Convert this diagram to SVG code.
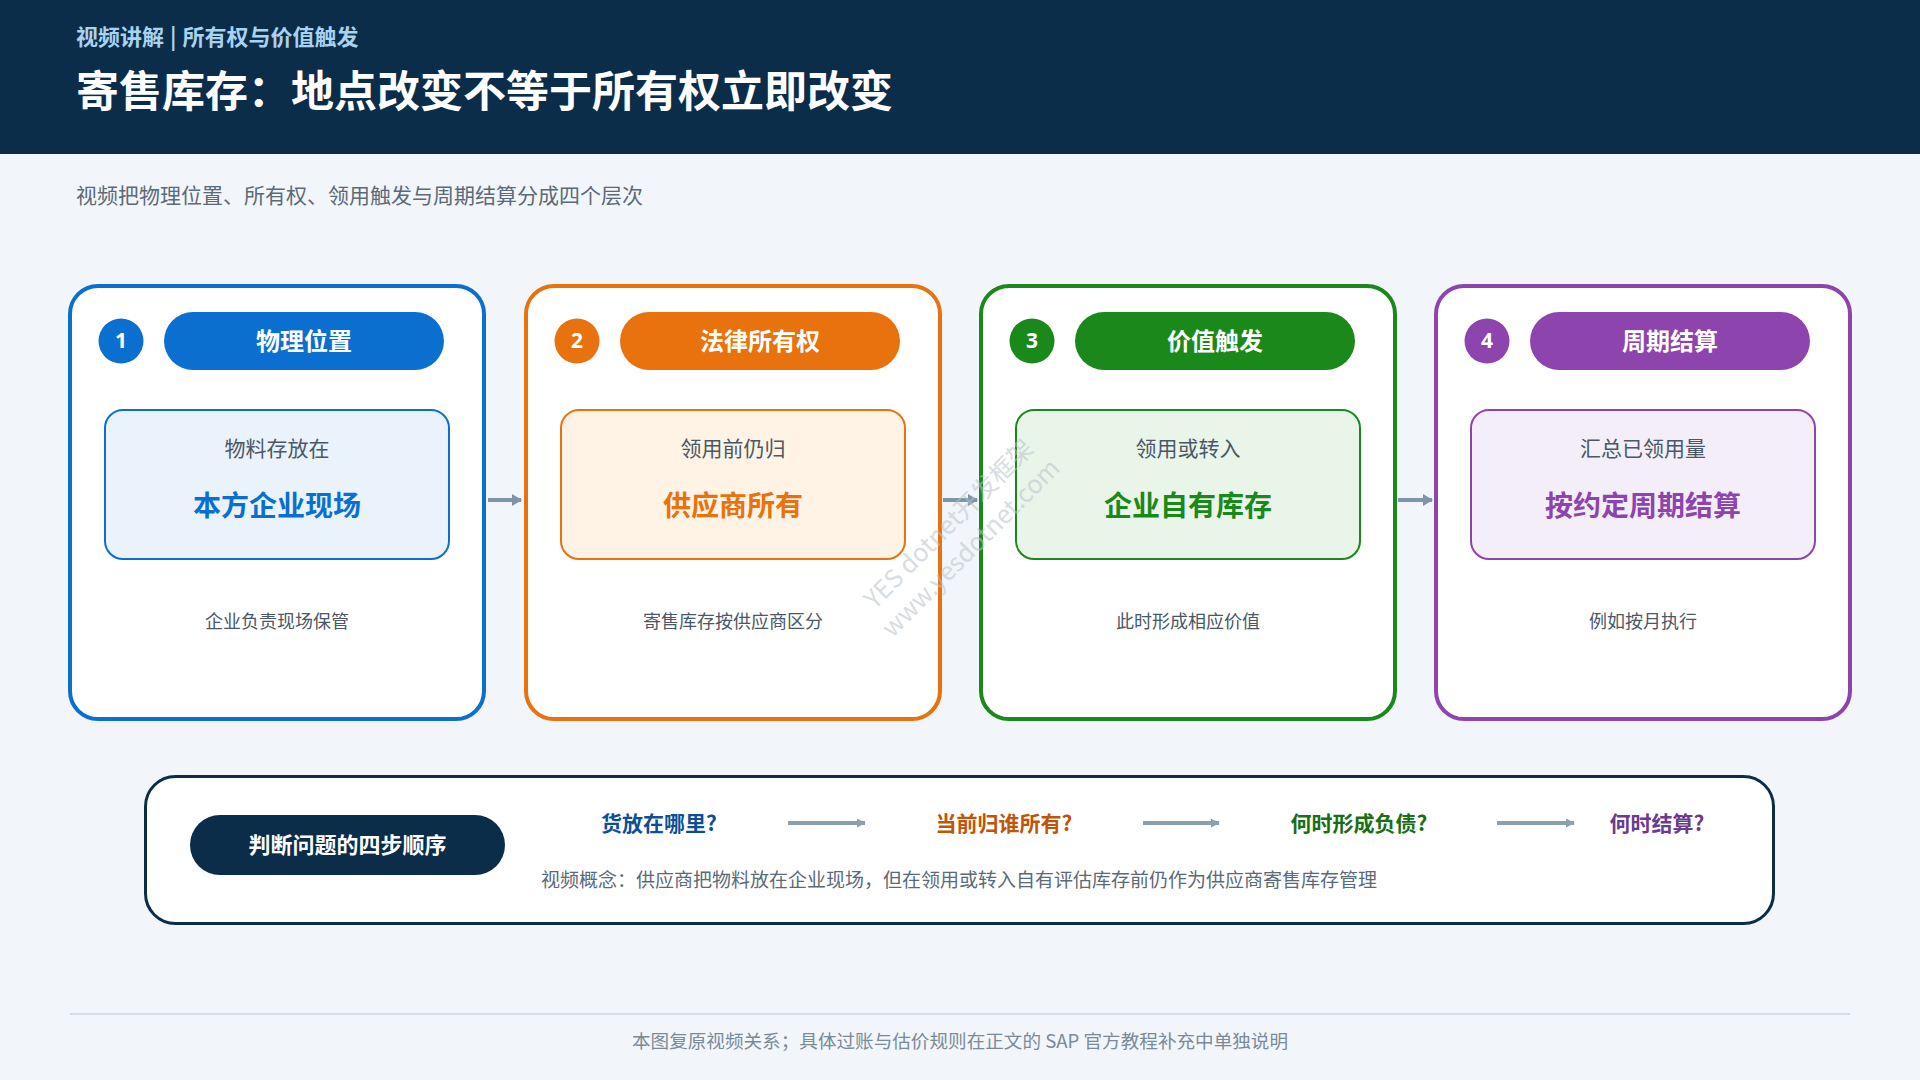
<svg xmlns="http://www.w3.org/2000/svg" width="1920" height="1080" viewBox="0 0 1920 1080">
<defs>
<style>
text{font-family:"Noto Sans CJK SC","Noto Sans",sans-serif}
.b{font-weight:700}
.mid{text-anchor:middle}
.card{fill:#ffffff;stroke-width:4}
.inner{stroke-width:2}
.pilltxt{fill:#ffffff;font-size:24px;font-weight:700;text-anchor:middle}
.num{fill:#ffffff;font-size:21px;font-weight:700;text-anchor:middle;font-family:"Noto Sans","Open Sans",sans-serif}
.small{fill:#4a5866;font-size:21px;text-anchor:middle}
.big{font-size:28px;font-weight:700;text-anchor:middle}
.note{fill:#4a5866;font-size:18px;text-anchor:middle}
.conn{stroke:#7d95a7;stroke-width:4;fill:none}
.step{font-size:21px;font-weight:700;text-anchor:middle}
</style>
<marker id="ah" viewBox="0 0 10 12" refX="9" refY="6" markerWidth="10" markerHeight="12" markerUnits="userSpaceOnUse" orient="auto">
<path d="M0,0 L10,6 L0,12 Z" fill="#7d95a7"/>
</marker>
<marker id="ah2" viewBox="0 0 10 10" refX="9" refY="5" markerWidth="9" markerHeight="9" markerUnits="userSpaceOnUse" orient="auto">
<path d="M0,0 L10,5 L0,10 Z" fill="#8aa0b1"/>
</marker>
</defs>

<rect x="0" y="0" width="1920" height="1080" fill="#f2f6fa"/>
<rect x="0" y="0" width="1920" height="154" fill="#0c2d4a"/>
<text x="76" y="45" font-size="22" class="b" fill="#a9d2f0">视频讲解<tspan dx="6">|</tspan><tspan dx="6">所有权与价值触发</tspan></text>
<text x="76" y="107" font-size="43" class="b" fill="#ffffff">寄售库存：地点改变不等于所有权立即改变</text>
<text x="76" y="203" font-size="21" fill="#5b6a78">视频把物理位置、所有权、领用触发与周期结算分成四个层次</text>

<g id="card1">
<rect class="card" x="70" y="286" width="414" height="433" rx="28" stroke="#0b6fd0"/>
<circle cx="121" cy="341" r="22.5" fill="#0b6fd0"/>
<text class="num" x="121" y="348">1</text>
<rect x="164" y="312" width="280" height="58" rx="29" fill="#0b6fd0"/>
<text class="pilltxt" x="304" y="350">物理位置</text>
<rect class="inner" x="105" y="410" width="344" height="149" rx="18" fill="#eaf2fc" stroke="#0b6fd0"/>
<text class="small" x="277" y="456">物料存放在</text>
<text class="big" x="277" y="516" fill="#0b6fd0">本方企业现场</text>
<text class="note" x="277" y="628">企业负责现场保管</text>
</g>

<g id="card2">
<rect class="card" x="526" y="286" width="414" height="433" rx="28" stroke="#e8730e"/>
<circle cx="577" cy="341" r="22.5" fill="#e8730e"/>
<text class="num" x="577" y="348">2</text>
<rect x="620" y="312" width="280" height="58" rx="29" fill="#e8730e"/>
<text class="pilltxt" x="760" y="350">法律所有权</text>
<rect class="inner" x="561" y="410" width="344" height="149" rx="18" fill="#fff3e6" stroke="#e8730e"/>
<text class="small" x="733" y="456">领用前仍归</text>
<text class="big" x="733" y="516" fill="#e8730e">供应商所有</text>
<text class="note" x="733" y="628">寄售库存按供应商区分</text>
</g>

<g id="card3">
<rect class="card" x="981" y="286" width="414" height="433" rx="28" stroke="#1b881b"/>
<circle cx="1032" cy="341" r="22.5" fill="#1b881b"/>
<text class="num" x="1032" y="348">3</text>
<rect x="1075" y="312" width="280" height="58" rx="29" fill="#1b881b"/>
<text class="pilltxt" x="1215" y="350">价值触发</text>
<rect class="inner" x="1016" y="410" width="344" height="149" rx="18" fill="#eaf5ea" stroke="#1b881b"/>
<text class="small" x="1188" y="456">领用或转入</text>
<text class="big" x="1188" y="516" fill="#1b881b">企业自有库存</text>
<text class="note" x="1188" y="628">此时形成相应价值</text>
</g>

<g id="card4">
<rect class="card" x="1436" y="286" width="414" height="433" rx="28" stroke="#8e44ad"/>
<circle cx="1487" cy="341" r="22.5" fill="#8e44ad"/>
<text class="num" x="1487" y="348">4</text>
<rect x="1530" y="312" width="280" height="58" rx="29" fill="#8e44ad"/>
<text class="pilltxt" x="1670" y="350">周期结算</text>
<rect class="inner" x="1471" y="410" width="344" height="149" rx="18" fill="#f3eef8" stroke="#8e44ad"/>
<text class="small" x="1643" y="456">汇总已领用量</text>
<text class="big" x="1643" y="516" fill="#8e44ad">按约定周期结算</text>
<text class="note" x="1643" y="628">例如按月执行</text>
</g>

<g id="summary">
<rect x="145.5" y="776.5" width="1628" height="147" rx="30" fill="#ffffff" stroke="#0c2d4a" stroke-width="3"/>
<rect x="190" y="815" width="315" height="60" rx="30" fill="#0c2d4a"/>
<text x="347.5" y="853" font-size="22" class="b mid" fill="#ffffff">判断问题的四步顺序</text>
<text class="step" x="659" y="831" fill="#0d4f94">货放在哪里?</text>
<text class="step" x="1004" y="831" fill="#c0550a">当前归谁所有?</text>
<text class="step" x="1359" y="831" fill="#1a6e14">何时形成负债?</text>
<text class="step" x="1657" y="831" fill="#6c3a8e">何时结算?</text>
<text x="541" y="887" font-size="19" fill="#5b6a78">视频概念：供应商把物料放在企业现场，但在领用或转入自有评估库存前仍作为供应商寄售库存管理</text>
</g>

<g id="connectors">
<line class="conn" x1="488" y1="500" x2="521" y2="500" marker-end="url(#ah)"/>
<line class="conn" x1="943" y1="500" x2="977" y2="500" marker-end="url(#ah)"/>
<line class="conn" x1="1398" y1="500" x2="1432" y2="500" marker-end="url(#ah)"/>
<line x1="788" y1="823" x2="865" y2="823" stroke="#8aa0b1" stroke-width="4" marker-end="url(#ah2)"/>
<line x1="1143" y1="823" x2="1219" y2="823" stroke="#8aa0b1" stroke-width="4" marker-end="url(#ah2)"/>
<line x1="1497" y1="823" x2="1574" y2="823" stroke="#8aa0b1" stroke-width="4" marker-end="url(#ah2)"/>
</g>

<line x1="70" y1="1014" x2="1850" y2="1014" stroke="#d6dee7" stroke-width="2"/>
<text x="960" y="1048" font-size="18.6" class="mid" fill="#7a8a99">本图复原视频关系；具体过账与估价规则在正文的 SAP 官方教程补充中单独说明</text>

<g opacity="0.55" fill="#b9c2ca" font-size="25">
<text x="955" y="530" class="mid" transform="rotate(-45 955 530)">YES dotnet开发框架</text>
<text x="977" y="554" class="mid" transform="rotate(-45 977 554)">www.yesdotnet.com</text>
</g>
</svg>
